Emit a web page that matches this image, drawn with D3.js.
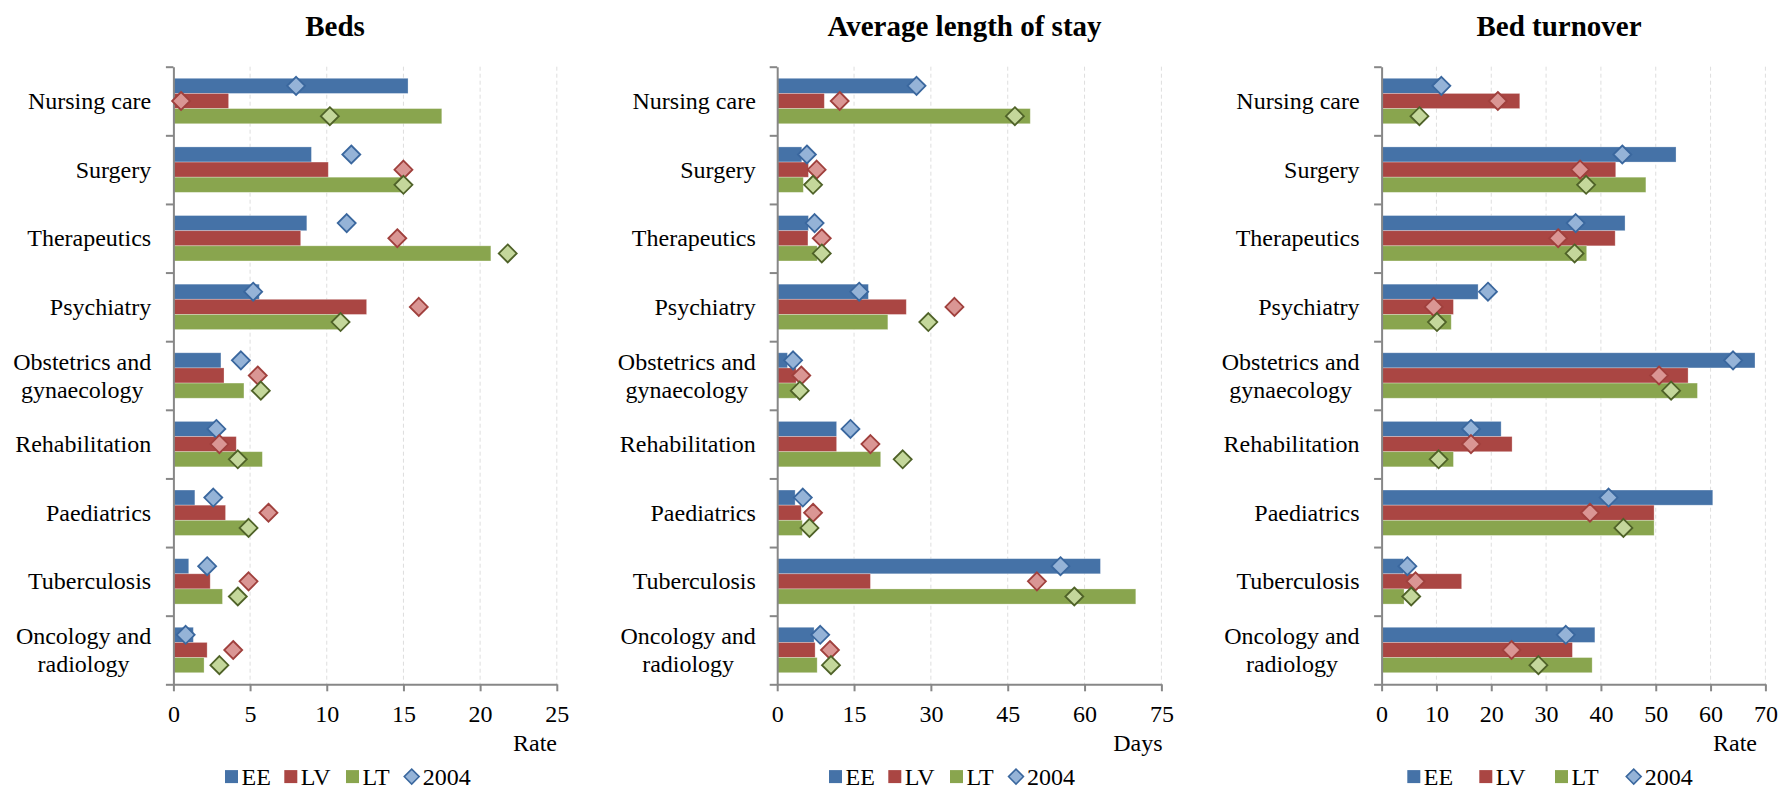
<!DOCTYPE html>
<html>
<head>
<meta charset="utf-8">
<script src="https://cdn.jsdelivr.net/npm/d3@7/dist/d3.min.js"></script>
<style>
  html, body { margin: 0; padding: 0; background: #ffffff; }
  svg { display: block; }
</style>
</head>
<body>
<svg id="chart" width="1778" height="790"></svg>
<script>
// ---------------- DATA ----------------
const categories = ["Nursing care", "Surgery", "Therapeutics", "Psychiatry",
  "Obstetrics and\ngynaecology", "Rehabilitation", "Paediatrics", "Tuberculosis",
  "Oncology and\nradiology"];
const seriesNames = ["EE", "LV", "LT"];
const markerName = "2004";

// Beds (rate)
const bedsEE = [15.3, 9.0, 8.7, 5.6, 3.1, 2.8, 1.4, 1.0, 1.3];
const bedsLV = [3.6, 10.1, 8.3, 12.6, 3.3, 4.1, 3.4, 2.4, 2.2];
const bedsLT = [17.5, 15.0, 20.7, 10.9, 4.6, 5.8, 4.9, 3.2, 2.0];
const beds2004EE = [8.0, 11.6, 11.3, 5.2, 4.4, 2.8, 2.6, 2.2, 0.8];
const beds2004LV = [0.5, 15.0, 14.6, 16.0, 5.5, 3.0, 6.2, 4.9, 3.9];
const beds2004LT = [10.2, 15.0, 21.8, 10.9, 5.7, 4.2, 4.9, 4.2, 3.0];
const bedsTicks = [0, 5, 10, 15, 20, 25];

// Average length of stay (days)
const alosEE = [27.2, 4.8, 6.1, 17.8, 2.0, 11.6, 3.5, 63.1, 7.2];
const alosLV = [9.2, 6.1, 6.0, 25.2, 3.7, 11.6, 4.7, 18.2, 7.4];
const alosLT = [49.4, 5.1, 7.8, 21.6, 3.7, 20.2, 4.9, 70.0, 7.8];
const alos2004EE = [27.2, 5.8, 7.3, 16.0, 3.1, 14.3, 5.0, 55.3, 8.4];
const alos2004LV = [12.2, 7.7, 8.7, 34.6, 4.7, 18.2, 7.0, 50.7, 10.3];
const alos2004LT = [46.4, 7.0, 8.7, 29.5, 4.4, 24.5, 6.3, 58.0, 10.5];
const alosTicks = [0, 15, 30, 45, 60, 75];

// Bed turnover (rate)
const turnEE = [10.8, 53.7, 44.4, 17.6, 68.1, 21.8, 60.4, 4.0, 38.9];
const turnLV = [25.2, 42.7, 42.6, 13.1, 55.9, 23.8, 49.7, 14.6, 34.8];
const turnLT = [6.7, 48.2, 37.4, 12.7, 57.6, 13.1, 49.7, 4.1, 38.4];
const turn2004EE = [10.9, 43.9, 35.4, 19.4, 64.1, 16.3, 41.4, 4.7, 33.6];
const turn2004LV = [21.2, 36.2, 32.2, 9.5, 50.6, 16.3, 38.0, 6.2, 23.7];
const turn2004LT = [6.9, 37.3, 35.2, 10.1, 52.8, 10.4, 44.1, 5.4, 28.6];
const turnTicks = [0, 10, 20, 30, 40, 50, 60, 70];

const titles = ["Beds", "Average length of stay", "Bed turnover"];
const axisTitles = ["Rate", "Days", "Rate"];

// ---------------- STYLE / LAYOUT ----------------
const barColors = ["#4572A7", "#AA4643", "#89A54E"];
const markFill = ["#95B3D7", "#DA9694", "#C4D79B"];
const markStroke = ["#3A679E", "#A0403D", "#4F6228"];
const FONT = '"Liberation Serif", "Tinos", "Times New Roman", "DejaVu Serif", serif';

const plotTop = 66.7, plotBottom = 684.3;
const legendBase = 784.5;

const panels = [
  { title: titles[0], titleX: 335, x0: 173.4, x1: 556.8, ticks: bedsTicks,
    axisTitle: axisTitles[0], axisTitleRight: 557, labelRight: 151.2,
    legendX: 225, legendOff: [0, 59.3, 121, 186.7],
    bars: [bedsEE, bedsLV, bedsLT], marks: [beds2004EE, beds2004LV, beds2004LT] },
  { title: titles[1], titleX: 964.5, x0: 777.2, x1: 1161.4, ticks: alosTicks,
    axisTitle: axisTitles[1], axisTitleRight: 1162.5, labelRight: 755.8,
    legendX: 829, legendOff: [0, 59.3, 121, 187],
    bars: [alosEE, alosLV, alosLT], marks: [alos2004EE, alos2004LV, alos2004LT] },
  { title: titles[2], titleX: 1559, x0: 1381.6, x1: 1765.4, ticks: turnTicks,
    axisTitle: axisTitles[2], axisTitleRight: 1757, labelRight: 1359.6,
    legendX: 1407.3, legendOff: [0, 72, 147.7, 226.4],
    bars: [turnEE, turnLV, turnLT], marks: [turn2004EE, turn2004LV, turn2004LT] }
];

const svg = d3.select("#chart");

function diamondPath(cx, cy, r) {
  return `M${cx},${cy - r}L${cx + r},${cy}L${cx},${cy + r}L${cx - r},${cy}Z`;
}
function txt(sel, size, weight) {
  return sel.attr("font-family", FONT).style("font-family", FONT)
    .style("font-size", size + "px").style("font-weight", weight || "normal")
    .attr("fill", "#000");
}

panels.forEach(p => {
  const g = svg.append("g");
  const tmax = p.ticks[p.ticks.length - 1];
  const x = d3.scaleLinear().domain([0, tmax]).range([p.x0, p.x1]);
  const yCat = d3.scaleBand().domain(categories).range([plotTop, plotBottom])
    .paddingInner(0.338).paddingOuter(0.169);
  const ySer = d3.scaleBand().domain(seriesNames).range([0, yCat.bandwidth()]);
  const step = yCat.step();

  // Title
  txt(g.append("text")
    .attr("x", p.titleX).attr("y", 36)
    .attr("text-anchor", "middle"), 29, "bold")
    .text(p.title);

  // Gridlines
  g.append("g").selectAll("line")
    .data(p.ticks.filter(t => t > 0))
    .join("line")
    .attr("x1", d => x(d)).attr("x2", d => x(d))
    .attr("y1", plotTop).attr("y2", plotBottom)
    .attr("stroke", "#dedede").attr("stroke-width", 1)
    .attr("stroke-dasharray", "4,3");

  // Bars
  seriesNames.forEach((s, si) => {
    g.append("g").selectAll("rect")
      .data(categories.map((c, ci) => ({ c, v: p.bars[si][ci] })))
      .join("rect")
      .attr("x", x(0))
      .attr("y", d => yCat(d.c) + ySer(s))
      .attr("width", d => x(d.v) - x(0))
      .attr("height", ySer.bandwidth())
      .attr("fill", barColors[si])
      .attr("stroke", "rgba(255,255,255,0.35)")
      .attr("stroke-width", 0.8);
  });

  // Bottom axis
  const xAxis = d3.axisBottom(x).tickValues(p.ticks).tickSize(7).tickSizeOuter(0)
    .tickFormat(d3.format("d"));
  const ax = g.append("g").attr("transform", `translate(0,${plotBottom})`).call(xAxis);
  ax.attr("font-family", FONT);
  ax.select(".domain").attr("stroke", "#878787").attr("stroke-width", 2);
  ax.selectAll(".tick line").attr("stroke", "#878787").attr("stroke-width", 2);
  txt(ax.selectAll(".tick text").attr("y", 38).attr("dy", 0), 24);

  // Left axis (category boundaries)
  const yIdx = d3.scaleLinear().domain([0, categories.length]).range([plotTop, plotBottom]);
  const yAxis = d3.axisLeft(yIdx).tickValues(d3.range(categories.length + 1))
    .tickSize(7.5).tickSizeOuter(0).tickFormat("");
  const ay = g.append("g").attr("transform", `translate(${p.x0},0)`).call(yAxis);
  ay.select(".domain").attr("stroke", "#878787").attr("stroke-width", 2);
  ay.selectAll(".tick line").attr("stroke", "#878787").attr("stroke-width", 2);

  // Category labels
  categories.forEach((c, ci) => {
    const cy = plotTop + (ci + 0.5) * step;
    const lines = c.split("\n");
    if (lines.length === 1) {
      txt(g.append("text").attr("x", p.labelRight).attr("y", cy + 8)
        .attr("text-anchor", "end"), 24).text(c);
    } else {
      const tg = g.append("g");
      const ts = lines.map((l, li) => txt(tg.append("text")
        .attr("y", cy - 6 + li * 28)
        .attr("text-anchor", "middle"), 24).text(l));
      const maxW = d3.max(ts, t => t.node().getComputedTextLength());
      ts.forEach(t => t.attr("x", p.labelRight - maxW / 2));
    }
  });

  // 2004 markers
  seriesNames.forEach((s, si) => {
    g.append("g").selectAll("path")
      .data(categories.map((c, ci) => ({ c, v: p.marks[si][ci] })))
      .join("path")
      .attr("d", d => diamondPath(x(d.v), yCat(d.c) + ySer(s) + ySer.bandwidth() / 2, 9))
      .attr("fill", markFill[si])
      .attr("stroke", markStroke[si])
      .attr("stroke-width", 1.8);
  });

  // Axis title
  txt(g.append("text").attr("x", p.axisTitleRight).attr("y", 751)
    .attr("text-anchor", "end"), 24).text(p.axisTitle);

  // Legend
  const lg = g.append("g");
  seriesNames.forEach((s, si) => {
    const lx = p.legendX + p.legendOff[si];
    lg.append("rect").attr("x", lx).attr("y", legendBase - 14.4).attr("width", 13).attr("height", 13)
      .attr("fill", barColors[si]);
    txt(lg.append("text").attr("x", lx + 16.5).attr("y", legendBase), 24).text(s);
  });
  const dcx = p.legendX + p.legendOff[3];
  lg.append("path").attr("d", diamondPath(dcx, legendBase - 7.9, 7.5))
    .attr("fill", markFill[0]).attr("stroke", markStroke[0]).attr("stroke-width", 1.5);
  txt(lg.append("text").attr("x", dcx + 11).attr("y", legendBase), 24).text(markerName);
});
</script>
</body>
</html>
